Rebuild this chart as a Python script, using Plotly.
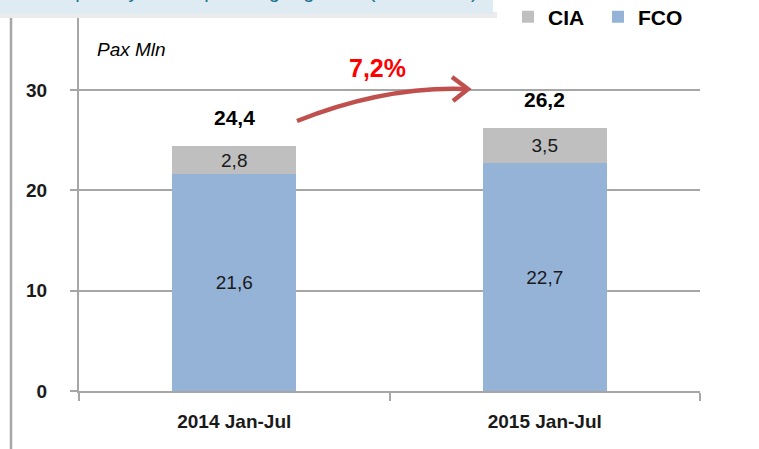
import plotly.graph_objects as go

categories = ["2014 Jan-Jul", "2015 Jan-Jul"]
fco_values = [21.6, 22.7]
cia_values = [2.8, 3.5]
totals = [24.4, 26.2]
growth_label = "7,2%"
y_ticks = [0, 10, 20, 30]
unit_label = "Pax Mln"
banner_text = "Rome Airport System \u2013 passenger growth (2014-2015)"

W, H = 759, 449
L, R, T, B = 79, 59, 0, 58
PW, PH = W - L - R, H - T - B

def px(x):
    return (x - L) / PW

def py(y):
    return (H - B - y) / PH

def fmt(v):
    return f"{v:.1f}".replace(".", ",")

FONT = "Liberation Sans, Arial, sans-serif"
GRID = "#A6A6A6"
TXT = "#1A1A1A"

fig = go.Figure()
fig.add_trace(go.Bar(
    x=categories, y=fco_values, name="FCO",
    marker=dict(color="#95B3D7", line=dict(width=0)),
    text=[fmt(v) for v in fco_values], textposition="inside",
    insidetextanchor="middle",
    textfont=dict(family=FONT, size=19, color=TXT),
))
fig.add_trace(go.Bar(
    x=categories, y=cia_values, name="CIA",
    marker=dict(color="#BFBFBF", line=dict(width=0)),
    text=[fmt(v) for v in cia_values], textposition="inside",
    insidetextanchor="middle",
    textfont=dict(family=FONT, size=19, color=TXT),
))

annotations = []
for c, t in zip(categories, totals):
    annotations.append(dict(
        x=c, y=t, xref="x", yref="y", text=f"<b>{fmt(t)}</b>",
        showarrow=False, yanchor="bottom", yshift=15,
        font=dict(family=FONT, size=21, color="#000000"),
    ))
annotations.append(dict(
    x=px(377), y=py(68), xref="paper", yref="paper", text=f"<b>{growth_label}</b>",
    showarrow=False, xanchor="center", yanchor="middle",
    font=dict(family=FONT, size=25, color="#FF0000"),
))
annotations.append(dict(
    x=px(95), y=py(50), xref="paper", yref="paper", text=f"<i>{unit_label}</i>",
    showarrow=False, xanchor="left", yanchor="middle",
    font=dict(family=FONT, size=19, color="#000000"),
))
annotations.append(dict(
    x=px(480), y=py(-9), xref="paper", yref="paper", text=banner_text,
    showarrow=False, xanchor="right", yanchor="middle",
    font=dict(family=FONT, size=20, color="#1F7391"),
))

shapes = [
    dict(type="line", xref="paper", yref="paper", x0=px(11), x1=px(11),
         y0=py(H + 5), y1=py(-5), line=dict(color=GRID, width=2.5)),
    dict(type="rect", xref="paper", yref="paper", x0=px(0), x1=px(497),
         y0=py(18), y1=py(12), fillcolor="#EBEBEB", line=dict(width=0), layer="above"),
    dict(type="rect", xref="paper", yref="paper", x0=px(-5), x1=px(493),
         y0=py(14), y1=py(-5), fillcolor="#DEEBF2", line=dict(width=0), layer="above"),
    dict(type="path", xref="paper", yref="paper",
         path=f"M {px(297)},{py(121)} Q {px(385)},{py(86)} {px(466)},{py(89)}",
         line=dict(color="#C0504D", width=4.5)),
    dict(type="path", xref="paper", yref="paper",
         path=f"M {px(452)},{py(77)} L {px(468)},{py(89)} L {px(453)},{py(101)}",
         line=dict(color="#C0504D", width=4.5)),
]

fig.update_layout(
    width=W, height=H,
    margin=dict(l=L, r=R, t=T, b=B, pad=0, autoexpand=False),
    barmode="stack", bargap=0.6,
    plot_bgcolor="white", paper_bgcolor="white",
    font=dict(family=FONT, color=TXT),
    showlegend=True,
    legend=dict(
        orientation="h", x=px(508), y=py(17), xanchor="left", yanchor="middle",
        traceorder="reversed", bgcolor="rgba(0,0,0,0)",
        font=dict(family=FONT, size=21, color="#000000", weight="bold"),
        itemclick=False, entrywidth=45,
    ),
    xaxis=dict(
        showline=True, linecolor=GRID, linewidth=2,
        ticks="outside", ticklen=8, tickcolor=GRID, tickwidth=2,
        tickson="boundaries", showgrid=False,
        tickfont=dict(family=FONT, size=19, color=TXT, weight="bold"),
        ticklabelstandoff=12,
    ),
    yaxis=dict(
        range=[0, 39], tickvals=y_ticks,
        showline=True, linecolor=GRID, linewidth=2,
        ticks="outside", ticklen=7, tickcolor=GRID, tickwidth=2,
        showgrid=True, gridcolor=GRID, gridwidth=1.5, zeroline=False,
        tickfont=dict(family=FONT, size=19, color=TXT, weight="bold"),
        ticklabelstandoff=19,
    ),
    annotations=annotations,
    shapes=shapes,
)

fig.write_html("out.html", config={"displayModeBar": False},
               post_script="document.body.style.margin='0';")
